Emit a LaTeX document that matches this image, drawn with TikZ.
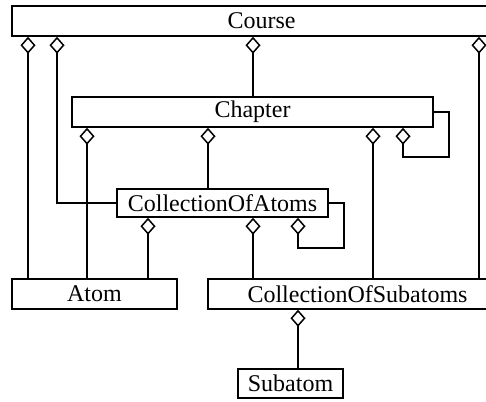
\documentclass[tikz,border=0pt]{standalone}
\usepackage{fontspec}
\setmainfont{Liberation Serif}
\usetikzlibrary{arrows.meta}

\begin{document}
\begin{tikzpicture}[x=1pt, y=-1pt,
		cls/.style={draw, line width=1.5pt, inner sep=0pt, minimum height=30pt, font=\fontsize{24}{28}\selectfont},
		agg/.style={line width=1.5pt, -{Diamond[open, length=17pt, width=15pt]}}]
		\useasboundingbox (0,0) rectangle (486,401);
		
		%%%%% CLASSES %%%%%
		\node[cls, minimum width=499pt] (course) at (261.5, 21) {Course};
		\node[cls, minimum width=361pt] (chapter) at (252.5, 112) {Chapter};
		\node[cls, minimum width=211pt, minimum height=28pt] (coa) at (222.5, 203) {CollectionOfAtoms};
		\node[cls, minimum width=165pt] (atom) at (94.5, 294) {Atom};
		\node[cls, minimum width=299pt] (cos) at (357.5, 294) {CollectionOfSubatoms};
		\node[cls, minimum width=105pt, minimum height=29pt] (subatom) at (290.5, 383.5) {Subatom};
		
		%%%%% COLUMNS %%%%%
		\coordinate (x1) at (28, 0);
		\coordinate (x2) at (57, 0);
		\coordinate (x3) at (87, 0);
		\coordinate (x4) at (148, 0);
		\coordinate (x5) at (208, 0);
		\coordinate (x6) at (253, 0);
		\coordinate (x7) at (298, 0);
		\coordinate (x8) at (373, 0);
		\coordinate (x9) at (403, 0);
		\coordinate (x10) at (479, 0);
		
		%%%%% COURSE %%%%%
		\draw[agg] (atom.north -| x1) -- (course.south -| x1);
		\draw[agg] (coa.west) -| (course.south -| x2);
		\draw[agg] (chapter.north -| x6) -- (course.south -| x6);
		\draw[agg] (cos.north -| x10) -- (course.south -| x10);
		
		%%%%% CHAPTER %%%%%
		\draw[agg] (atom.north -| x3) -- (chapter.south -| x3);
		\draw[agg] (coa.north -| x5) -- (chapter.south -| x5);
		\draw[agg] (cos.north -| x8) -- (chapter.south -| x8);
		\draw[agg] (chapter.east) -- ++(15, 0) -- ++(0, 45) -| (chapter.south -| x9);
		
		%%%%% COLLECTIONOFATOMS %%%%%
		\draw[agg] (atom.north -| x4) -- (coa.south -| x4);
		\draw[agg] (cos.north -| x6) -- (coa.south -| x6);
		\draw[agg] (coa.east) -- ++(15, 0) -- ++(0, 45) -| (coa.south -| x7);
		
		%%%%% COLLECTIONOFSUBATOMS %%%%%
		\draw[agg] (subatom.north -| x7) -- (cos.south -| x7);
		
\end{tikzpicture}
\end{document}
